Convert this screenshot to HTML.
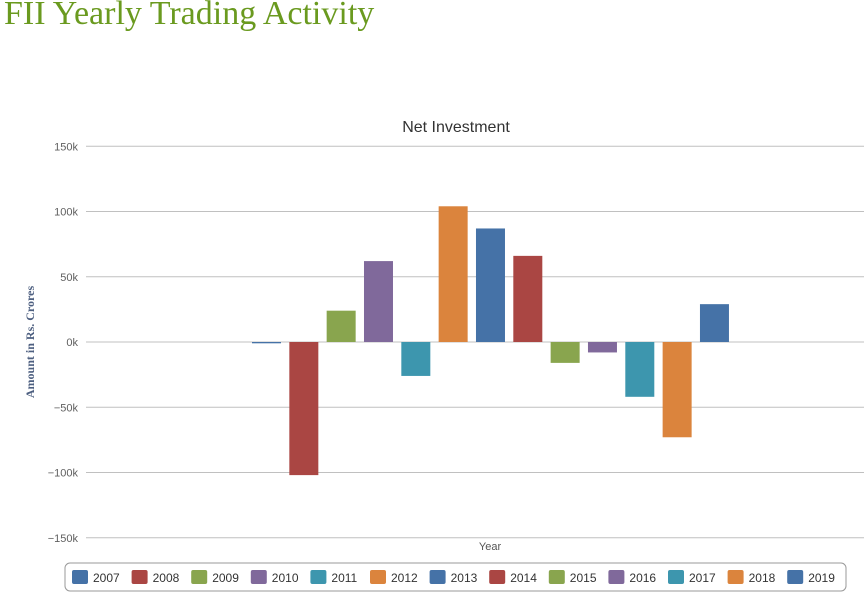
<!DOCTYPE html>
<html><head><meta charset="utf-8"><style>
body{margin:0;background:#fff;width:864px;height:595px;overflow:hidden;font-family:"Liberation Sans","DejaVu Sans",sans-serif}
h1{position:absolute;left:4px;top:-5px;margin:0;font-family:"Liberation Serif",serif;font-weight:normal;font-size:34px;color:#6a9a1f}
</style></head><body>
<h1>FII Yearly Trading Activity</h1>
<svg id="c" width="864" height="595" style="position:absolute;left:0;top:0">
<text x="456" y="132" text-anchor="middle" font-size="16" fill="#333">Net Investment</text>
<text transform="translate(34,342) rotate(-90)" text-anchor="middle" font-size="12" font-weight="bold" fill="#4d5f80" font-family="Liberation Serif, serif">Amount in Rs. Crores</text>
<text x="490" y="550" text-anchor="middle" font-size="11" fill="#555">Year</text>
<g id="grid"></g><g id="bars"></g>
<rect x="65" y="563" width="781" height="28" rx="5" fill="#fff" stroke="#999"/>
<g id="legend"></g>
</svg>
<script>
const years=["2007","2008","2009","2010","2011","2012","2013","2014","2015","2016","2017","2018","2019"];
const values=[-1,-102,24,62,-26,104,87,66,-16,-8,-42,-73,29];
const ticks=[150,100,50,0,-50,-100,-150];
const colors=["#4572a7","#aa4643","#89a54e","#80699b","#3d96ae","#db843d"];
const NS="http://www.w3.org/2000/svg";
const y0=342,k=1.305;
function y(v){return y0-v*k;}
function x(i){return 252+i*37.33;}
const grid=document.getElementById('grid');
ticks.forEach(t=>{
 const l=document.createElementNS(NS,'line');
 l.setAttribute('x1',86);l.setAttribute('x2',864);l.setAttribute('y1',y(t));l.setAttribute('y2',y(t));
 l.setAttribute('stroke','#c0c0c0');
 
 
 grid.appendChild(l);
 const tx=document.createElementNS(NS,'text');
 tx.setAttribute('x',78);tx.setAttribute('y',y(t)+4);tx.setAttribute('text-anchor','end');
 tx.setAttribute('font-size','11');tx.setAttribute('fill','#606060');
 tx.textContent=(t<0?'−'+(-t):t)+'k';
 
 
 grid.appendChild(tx);
});
const bars=document.getElementById('bars');
values.forEach((v,i)=>{
 const r=document.createElementNS(NS,'rect');
 const top=Math.min(y(v),y0),h=Math.max(Math.abs(y(v)-y0),1);
 r.setAttribute('x',x(i));r.setAttribute('width',29);r.setAttribute('y',top);r.setAttribute('height',h);
 r.setAttribute('fill',colors[i%6]);
 
 
 bars.appendChild(r);
});
const lg=document.getElementById('legend');
years.forEach((yr,i)=>{
 const lx=72+i*59.6;
 const r=document.createElementNS(NS,'rect');
 r.setAttribute('x',lx);r.setAttribute('y',570);r.setAttribute('width',16);r.setAttribute('height',14);r.setAttribute('rx',2);
 r.setAttribute('fill',colors[i%6]);
 
 
 lg.appendChild(r);
 const t=document.createElementNS(NS,'text');
 t.setAttribute('x',lx+21);t.setAttribute('y',582);t.setAttribute('font-size','12');t.setAttribute('fill','#333');
 t.textContent=yr;
 
 
 lg.appendChild(t);
});
</script>
</body></html>
